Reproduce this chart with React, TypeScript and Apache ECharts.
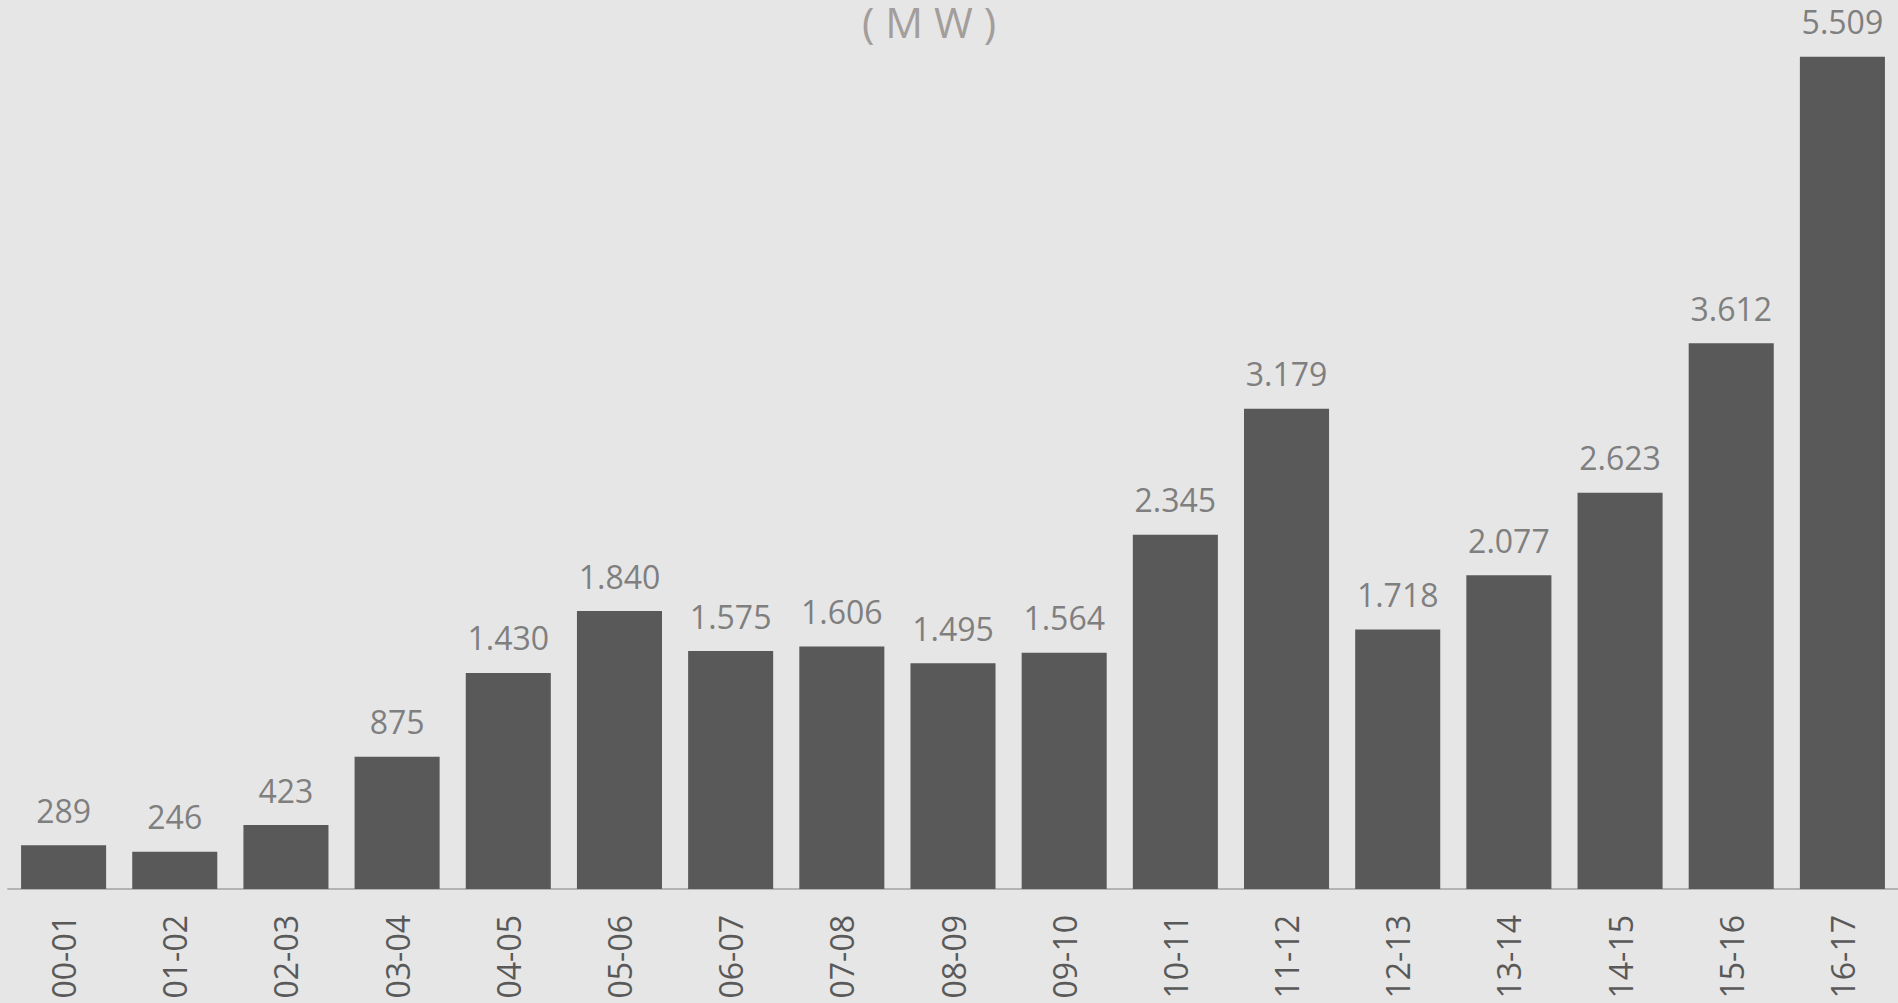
import React, { useEffect, useRef } from "react";
import * as echarts from "echarts";

const categories = ["00-01","01-02","02-03","03-04","04-05","05-06","06-07","07-08","08-09","09-10","10-11","11-12","12-13","13-14","14-15","15-16","16-17"];
const values = [289,246,423,875,1430,1840,1575,1606,1495,1564,2345,3179,1718,2077,2623,3612,5509];
const titleText = "( M W )";

function fmt(v: number): string {
  const s = String(Math.round(v));
  return s.replace(/\B(?=(\d{3})+(?!\d))/g, ".");
}

export default function App() {
  const ref = useRef<HTMLDivElement>(null);
  useEffect(() => {
    document.body.style.margin = "0";
    const chart = echarts.init(ref.current!, null, { renderer: "svg" });
    chart.setOption({
      animation: false,
      backgroundColor: "#e6e6e6",
      title: {
        text: titleText,
        left: 929,
        top: 0,
        padding: 0,
        textAlign: "center",
        textStyle: { color: "#a39d9b", fontSize: 42, lineHeight: 42, fontWeight: "normal", fontFamily: "Open Sans" },
      },
      grid: { left: 8, right: 0, top: 43, bottom: 114, containLabel: false },
      xAxis: {
        type: "category",
        data: categories,
        axisLine: { show: true, lineStyle: { color: "#b3b3b3", width: 2 } },
        axisTick: { show: false },
        axisLabel: {
          rotate: 90,
          margin: 26,
          color: "#595959",
          fontSize: 32,
          fontFamily: "Open Sans",
          interval: 0,
        },
      },
      yAxis: {
        type: "value",
        min: 0,
        max: 5600,
        show: false,
        splitLine: { show: false },
      },
      series: [
        {
          type: "bar",
          data: values,
          barCategoryGap: "23.5%",
          itemStyle: { color: "#595959" },
          label: {
            show: true,
            position: "top",
            distance: 19,
            color: "#7f7f7f",
            fontSize: 32,
            fontFamily: "Open Sans",
            formatter: (p: any) => fmt(p.value),
          },
        },
      ],
    });
    return () => chart.dispose();
  }, []);
  return <div ref={ref} style={{ position: "absolute", left: 0, top: 0, width: 1898, height: 1003 }} />;
}
